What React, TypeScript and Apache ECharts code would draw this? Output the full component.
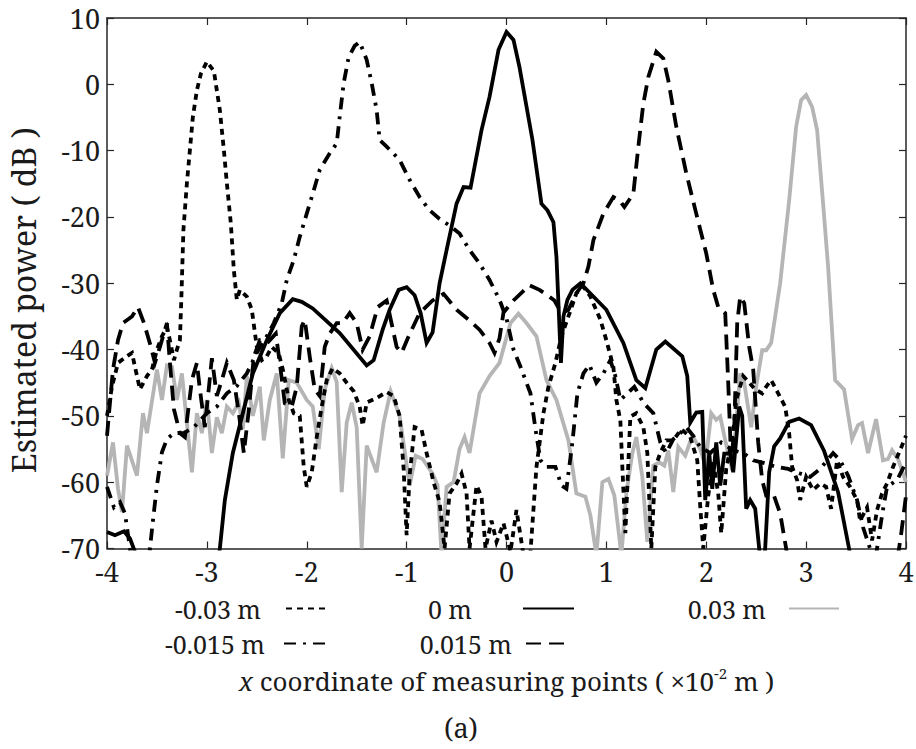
import React, { useEffect, useRef } from "react";
import * as echarts from "echarts";

// ---------- axis ranges / ticks ----------
const X_MIN = -4;
const X_MAX = 4;
const X_STEP = 1;
const Y_MIN = -70;
const Y_MAX = 10;
const Y_STEP = 10;

// ---------- series names ----------
const NAMES = ["-0.03 m", "-0.015 m", "0 m", "0.015 m", "0.03 m"];

// ---------- data: [x (×10^-2 m), power (dB)] ----------
const dataMinus003: number[][] = [
  [-4, -50], [-3.95, -45.6], [-3.89, -42], [-3.8, -41], [-3.75, -40.5], [-3.72, -42.6], [-3.67, -46],
  [-3.6, -44], [-3.55, -43], [-3.5, -40], [-3.45, -38], [-3.4, -36.6], [-3.37, -38.6], [-3.33, -41.6],
  [-3.3, -40], [-3.27, -38.6], [-3.255, -32], [-3.235, -22], [-3.2, -14.9], [-3.17, -9.9], [-3.14, -4.9],
  [-3.1, -0.9], [-3.06, 1.6], [-3.0, 3.4], [-2.93, 2], [-2.87, -3.9], [-2.83, -9.9], [-2.8, -14.9],
  [-2.76, -21], [-2.73, -28], [-2.7, -32.5], [-2.67, -31], [-2.6, -32], [-2.55, -34], [-2.5, -39.6],
  [-2.45, -41.6], [-2.4, -41], [-2.35, -39.6], [-2.28, -40.6], [-2.23, -43.6], [-2.18, -47.6],
  [-2.13, -49.6], [-2.07, -50], [-2.03, -57.7], [-2.0, -60.7], [-1.95, -58.5], [-1.9, -53.2],
  [-1.85, -48.6], [-1.8, -44.6], [-1.74, -42.8], [-1.67, -43.6], [-1.6, -45], [-1.53, -46.3],
  [-1.47, -48.6], [-1.44, -51.5], [-1.4, -48], [-1.3, -47.3], [-1.2, -46.4], [-1.13, -47], [-1.07, -50],
  [-1.03, -58], [-1.0, -68], [-0.97, -59], [-0.92, -51.7], [-0.85, -52.1], [-0.8, -55.6], [-0.73, -60],
  [-0.67, -63], [-0.62, -70], [-0.57, -61.7], [-0.5, -60.2], [-0.45, -58.7], [-0.4, -61.7], [-0.37, -70],
  [-0.3, -60.5], [-0.25, -62.2], [-0.21, -70], [-0.15, -65.8], [-0.1, -69], [-0.03, -66.2], [0.04, -70.5],
  [0.1, -64.2], [0.17, -71], [0.24, -70.5], [0.3, -57.7], [0.37, -49.6], [0.42, -45.6], [0.49, -42],
  [0.55, -38], [0.62, -35], [0.7, -31.5], [0.77, -30.5], [0.84, -32], [0.94, -35.5], [1.0, -38.6],
  [1.07, -42.6], [1.1, -47.6], [1.14, -50.7], [1.16, -57.7], [1.19, -67.7], [1.24, -50.1], [1.3, -49.6],
  [1.37, -51.7], [1.41, -55.6], [1.45, -70], [1.49, -57.7], [1.54, -55.6], [1.6, -53.7], [1.67, -53.7],
  [1.75, -52], [1.84, -53.2], [1.91, -56.7], [1.94, -63.7], [1.97, -70], [2.02, -62], [2.07, -57],
  [2.12, -61.7], [2.15, -67.7], [2.2, -58], [2.27, -52.6], [2.3, -47.6], [2.37, -44], [2.43, -45],
  [2.49, -46], [2.56, -46.6], [2.6, -45.6], [2.65, -44.6], [2.72, -46.6], [2.79, -48.6], [2.83, -52.6],
  [2.86, -57.7], [2.91, -59.7], [2.94, -62.7], [3.0, -59.2], [3.07, -61.2], [3.14, -60.2], [3.2, -60.7],
  [3.25, -64], [3.31, -56.7], [3.37, -59.2], [3.44, -60.7], [3.51, -62.7], [3.54, -65.8], [3.61, -63.8],
  [3.66, -68.8], [3.71, -64.2], [3.76, -61.7], [3.81, -60.2], [3.87, -57.7], [3.94, -55.2], [4.0, -53],
];

const dataMinus0015: number[][] = [
  [-4, -60.7], [-3.93, -63.8], [-3.87, -63], [-3.82, -64.7], [-3.77, -70], [-3.7, -76], [-3.62, -76],
  [-3.57, -70], [-3.54, -65.8], [-3.5, -60.5], [-3.45, -55.5], [-3.4, -53.5], [-3.33, -52.6],
  [-3.23, -52.6], [-3.13, -51.7], [-3.0, -49.6], [-2.9, -48.6], [-2.8, -46.6], [-2.7, -45.5],
  [-2.6, -43.6], [-2.5, -40.5], [-2.4, -38], [-2.33, -36], [-2.25, -33], [-2.2, -29.5], [-2.13, -26.5],
  [-2.07, -23], [-2.0, -19.5], [-1.93, -16], [-1.87, -12.9], [-1.77, -10.4], [-1.7, -8.9], [-1.67, -4.9],
  [-1.63, 0.2], [-1.58, 4.1], [-1.52, 5.8], [-1.47, 6.4], [-1.4, 3.7], [-1.35, 0.2], [-1.3, -3.9],
  [-1.27, -8.4], [-1.2, -9.4], [-1.07, -11.4], [-0.97, -14.4], [-0.87, -17], [-0.77, -19], [-0.67, -20.3],
  [-0.57, -21.3], [-0.47, -22.5], [-0.37, -25], [-0.27, -27], [-0.17, -29.5], [-0.07, -32.5], [0, -35.3],
  [0.07, -40], [0.14, -42.6], [0.24, -46.6], [0.29, -52], [0.34, -56.7], [0.4, -57.7], [0.49, -57.7],
  [0.55, -60.5], [0.6, -61], [0.66, -54], [0.71, -46.6], [0.77, -43.6], [0.83, -42.3], [0.9, -45],
  [0.97, -43.6], [1.04, -41.6], [1.09, -44], [1.14, -47.6], [1.21, -46.6], [1.28, -45.6], [1.37, -48],
  [1.47, -49.6], [1.54, -54], [1.6, -55.6], [1.67, -53.5], [1.74, -52.6], [1.8, -51.7], [1.87, -53],
  [1.94, -54.7], [2.04, -55.6], [2.15, -54], [2.27, -55.2], [2.37, -55.6], [2.47, -56.7], [2.6, -57.2],
  [2.7, -57.7], [2.82, -58], [2.94, -58.7], [3.04, -59.2], [3.14, -58], [3.27, -55.6], [3.34, -56.7],
  [3.42, -59], [3.51, -62.7], [3.57, -66.8], [3.64, -70], [3.7, -71], [3.76, -65], [3.81, -60.7],
  [3.91, -59.7], [4.0, -57],
];

const dataZero: number[][] = [
  [-4, -67.5], [-3.92, -68], [-3.83, -67.4], [-3.77, -68.5], [-3.72, -70.5], [-3.65, -74], [-3.5, -80],
  [-3.0, -82], [-2.92, -75], [-2.87, -70], [-2.82, -62.7], [-2.74, -55.6], [-2.64, -49.6], [-2.54, -43.6],
  [-2.4, -38.6], [-2.27, -34.5], [-2.14, -32.4], [-2.05, -32.8], [-1.94, -33.8], [-1.67, -37.5],
  [-1.4, -42.4], [-1.33, -41.6], [-1.24, -37], [-1.17, -34], [-1.08, -31], [-1.0, -30.6], [-0.92, -31.8],
  [-0.86, -34.5], [-0.8, -39], [-0.74, -37.4], [-0.67, -30], [-0.6, -25], [-0.5, -18], [-0.43, -15.5],
  [-0.36, -15.6], [-0.25, -6.9], [-0.17, -1.9], [-0.08, 5.2], [0, 7.9], [0.07, 6.7], [0.13, 2.6],
  [0.26, -8.4], [0.35, -18], [0.41, -19], [0.47, -20.8], [0.5, -26], [0.52, -33], [0.545, -42],
  [0.57, -35], [0.61, -32.5], [0.66, -31], [0.74, -30], [0.87, -32], [1.0, -34], [1.17, -39], [1.3, -44.6],
  [1.39, -45.8], [1.5, -40], [1.59, -38.8], [1.76, -41], [1.81, -44], [1.84, -51], [1.9, -49.5],
  [1.96, -49.4], [1.99, -62.7], [2.03, -55.6], [2.06, -61], [2.1, -54], [2.14, -60.5], [2.18, -55.7],
  [2.24, -55.7], [2.27, -58.5], [2.33, -48.6], [2.36, -50], [2.4, -64], [2.44, -62.7], [2.49, -64],
  [2.53, -70], [2.56, -74], [2.59, -70], [2.63, -58.5], [2.68, -54.6], [2.74, -53.4], [2.83, -50.9],
  [2.93, -50.4], [3.05, -51.4], [3.18, -55.3], [3.32, -61.5], [3.43, -70], [3.5, -76], [3.6, -82], [4, -90],
];

const data0015: number[][] = [
  [-4, -53], [-3.94, -43], [-3.89, -38.6], [-3.84, -36], [-3.75, -35], [-3.69, -33.6], [-3.63, -36],
  [-3.56, -39.6], [-3.52, -42], [-3.47, -39.6], [-3.4, -36], [-3.37, -42], [-3.33, -49], [-3.27, -52.6],
  [-3.22, -53.2], [-3.15, -44.6], [-3.1, -42], [-3.07, -46], [-3.02, -51.7], [-2.95, -41.3], [-2.9, -47],
  [-2.85, -44.6], [-2.8, -42], [-2.73, -44.6], [-2.68, -49.6], [-2.63, -55.6], [-2.58, -49.1],
  [-2.53, -41.1], [-2.47, -38.6], [-2.4, -39.1], [-2.31, -37.6], [-2.27, -42], [-2.22, -48.1],
  [-2.15, -48.6], [-2.1, -45.6], [-2.05, -36.5], [-2.02, -35.5], [-1.97, -41.1], [-1.92, -46],
  [-1.87, -47], [-1.82, -39.6], [-1.77, -37.6], [-1.7, -36], [-1.64, -36], [-1.57, -34.5], [-1.5, -36],
  [-1.44, -40], [-1.37, -38], [-1.29, -33.6], [-1.2, -32.6], [-1.1, -39.6], [-1.05, -40.5], [-0.98, -38],
  [-0.87, -34.5], [-0.74, -32.6], [-0.63, -31.6], [-0.5, -34], [-0.38, -35.5], [-0.27, -37], [-0.17, -39],
  [-0.12, -40.5], [-0.07, -38.3], [-0.03, -34.4], [0.07, -32.6], [0.23, -30.3], [0.33, -31], [0.41, -31.8],
  [0.48, -32.6], [0.55, -34.5], [0.62, -34], [0.7, -31.5], [0.77, -30], [0.82, -27.5], [0.87, -23.5],
  [0.97, -19.5], [1.07, -17], [1.13, -17.5], [1.18, -18.5], [1.27, -16.5], [1.32, -9.4], [1.37, -2.9],
  [1.42, 1.1], [1.5, 4.9], [1.57, 3.9], [1.62, 0.6], [1.7, -6.4], [1.8, -13.4], [1.9, -19.5], [2.0, -25.5],
  [2.07, -31], [2.12, -33.6], [2.19, -34.5], [2.22, -45], [2.25, -57], [2.28, -52], [2.31, -36],
  [2.34, -32], [2.38, -33], [2.43, -39.6], [2.47, -43], [2.52, -54], [2.56, -59.7], [2.6, -62],
  [2.67, -61.7], [2.74, -64.7], [2.8, -70], [2.85, -76], [3.2, -82], [3.88, -75], [3.95, -68], [4, -62],
];

const data003: number[][] = [
  [-4, -59], [-3.94, -54], [-3.89, -61], [-3.85, -64.5], [-3.8, -54.5], [-3.7, -59], [-3.64, -49.6],
  [-3.6, -52.6], [-3.5, -43], [-3.45, -47.6], [-3.4, -42.4], [-3.35, -42.6], [-3.3, -47.6], [-3.25, -43.6],
  [-3.15, -58.5], [-3.1, -49.6], [-3.05, -52.6], [-3.0, -47.6], [-2.95, -55.6], [-2.9, -50.2],
  [-2.85, -52.6], [-2.8, -48.6], [-2.74, -49.6], [-2.68, -48], [-2.64, -52], [-2.6, -44], [-2.54, -50],
  [-2.47, -45.6], [-2.43, -53.7], [-2.37, -47.6], [-2.3, -43.6], [-2.24, -56.4], [-2.18, -44.6],
  [-2.1, -45], [-2.0, -47.6], [-1.94, -48.6], [-1.88, -55], [-1.82, -46], [-1.75, -42.8], [-1.7, -44.9],
  [-1.65, -61.5], [-1.6, -51], [-1.55, -48], [-1.5, -51.7], [-1.45, -70], [-1.4, -54.5], [-1.3, -58.5],
  [-1.23, -51], [-1.16, -46.3], [-1.07, -50], [-0.97, -60.5], [-0.91, -56], [-0.84, -56.5], [-0.74, -58.7],
  [-0.69, -60.5], [-0.65, -71], [-0.6, -60.7], [-0.53, -60], [-0.47, -55], [-0.42, -53.2], [-0.37, -55.6],
  [-0.27, -46.6], [-0.17, -44], [-0.07, -42], [0.04, -36], [0.12, -34.6], [0.2, -36], [0.3, -38],
  [0.4, -44.6], [0.5, -47.6], [0.62, -53.7], [0.7, -61.7], [0.79, -62.2], [0.84, -65], [0.9, -71],
  [0.96, -60], [1.02, -59.5], [1.08, -62], [1.15, -71], [1.2, -61.7], [1.26, -55.6], [1.3, -53.2],
  [1.36, -59.2], [1.41, -69], [1.47, -57.5], [1.53, -57], [1.58, -57.5], [1.62, -55.2], [1.67, -61.5],
  [1.72, -54.7], [1.79, -56], [1.86, -53], [1.94, -55], [1.99, -57.5], [2.05, -49.6], [2.1, -50.6],
  [2.14, -50.1], [2.19, -53.7], [2.26, -58.2], [2.34, -43.6], [2.38, -45], [2.45, -51.7], [2.5, -45.6],
  [2.56, -40.1], [2.6, -40.1], [2.65, -39], [2.74, -30], [2.83, -17.5], [2.9, -6.4], [2.95, -2.4],
  [3.0, -1.6], [3.06, -3.4], [3.11, -6.9], [3.17, -18], [3.22, -27.5], [3.29, -44.6], [3.38, -46],
  [3.46, -53.5], [3.52, -51.4], [3.56, -51.1], [3.62, -55.6], [3.7, -50.5], [3.77, -56.7], [3.82, -56.5],
  [3.86, -55.2], [3.92, -56.5], [4.0, -60],
];

const FONT = "Noto Serif";
const TEXT = "#1a1a1a";
const LINE_W = 3.8;

export default function App() {
  const ref = useRef<HTMLDivElement>(null);

  useEffect(() => {
    if (!ref.current) return;
    const chart = echarts.init(ref.current, undefined, { renderer: "svg" });

    const mkSeries = (name: string, data: number[][], color: string, type: any, z: number) => ({
      name,
      type: "line",
      data,
      xAxisIndex: 0,
      yAxisIndex: 0,
      symbol: "none",
      showSymbol: false,
      clip: true,
      z,
      lineStyle: { color, width: LINE_W, type, cap: "butt", join: "miter" },
      itemStyle: { color },
      emphasis: { disabled: true },
    });

    const LEG_FS = 25;
    const legendBase = {
      orient: "horizontal",
      align: "right",
      padding: 0,
      itemHeight: 14,
      selectedMode: false,
      itemStyle: { opacity: 0, borderWidth: 0 },
      formatter: (name: string) => `{t|${name}}`,
    };
    const legendText = (gap: number) => ({
      fontFamily: FONT,
      fontSize: LEG_FS,
      lineHeight: LEG_FS,
      color: TEXT,
      padding: [0, gap, 0, 0],
      rich: { t: { fontFamily: FONT, fontSize: LEG_FS, lineHeight: LEG_FS, color: TEXT } },
    });

    const axisLine = { show: true, onZero: false, lineStyle: { color: "#262626", width: 1.5 } };
    const axisTick = { show: true, inside: true, length: 7, lineStyle: { color: "#262626", width: 1.2 } };
    const tickLabel = (margin: number) => ({
      fontFamily: FONT,
      fontSize: 27,
      color: TEXT,
      margin,
      formatter: (v: number) => `{t|${v}}`,
      rich: { t: { fontFamily: FONT, fontSize: 27, lineHeight: 28, color: TEXT } },
    });

    const option: any = {
      animation: false,
      backgroundColor: "#ffffff",
      textStyle: { fontFamily: FONT },
      grid: {
        left: 107,
        top: 18,
        right: 10,
        bottom: 200.5,
        containLabel: false,
        outerBoundsMode: "none",
      },
      xAxis: [
        {
          type: "value",
          min: X_MIN,
          max: X_MAX,
          interval: X_STEP,
          position: "bottom",
          name: "{it|x}{n| coordinate of measuring points ( ×10}{sup|-2}{n| m )}",
          nameLocation: "middle",
          nameGap: 117,
          nameTextStyle: {
            fontFamily: FONT,
            fontSize: 26,
            color: TEXT,
            rich: {
              it: { fontFamily: FONT, fontSize: 26, lineHeight: 28, fontStyle: "italic", color: TEXT, verticalAlign: "bottom" },
              n: { fontFamily: FONT, fontSize: 26, lineHeight: 28, color: TEXT, verticalAlign: "bottom" },
              sup: { fontFamily: FONT, fontSize: 15, lineHeight: 15, color: TEXT, verticalAlign: "top", padding: [0, 0, 23, 0] },
            },
          },
          axisLine,
          axisTick,
          axisLabel: tickLabel(9),
          splitLine: { show: false },
        },
        {
          type: "value",
          min: X_MIN,
          max: X_MAX,
          interval: X_STEP,
          position: "top",
          axisLine,
          axisTick,
          axisLabel: { show: false },
          splitLine: { show: false },
        },
      ],
      yAxis: [
        {
          type: "value",
          min: Y_MIN,
          max: Y_MAX,
          interval: Y_STEP,
          position: "left",
          name: "Estimated power ( dB )",
          nameLocation: "middle",
          nameGap: 68,
          nameTextStyle: { fontFamily: FONT, fontSize: 32, color: TEXT, padding: [0, 34, 0, 0] },
          axisLine,
          axisTick,
          axisLabel: tickLabel(7),
          splitLine: { show: false },
        },
        {
          type: "value",
          min: Y_MIN,
          max: Y_MAX,
          interval: Y_STEP,
          position: "right",
          axisLine,
          axisTick,
          axisLabel: { show: false },
          splitLine: { show: false },
        },
      ],
      legend: [
        { ...legendBase, data: [NAMES[0]], right: 585, top: 596, itemWidth: 44, textStyle: legendText(20) },
        { ...legendBase, data: [NAMES[2]], right: 341, top: 596, itemWidth: 51, textStyle: legendText(46) },
        { ...legendBase, data: [NAMES[4]], right: 76, top: 596, itemWidth: 50, textStyle: legendText(18) },
        { ...legendBase, data: [NAMES[1]], right: 588, top: 631, itemWidth: 43, textStyle: legendText(14) },
        { ...legendBase, data: [NAMES[3]], right: 348, top: 631, itemWidth: 41, textStyle: legendText(9) },
      ],
      graphic: [
        {
          type: "text",
          x: 461,
          y: 727,
          style: {
            text: "(a)",
            fontFamily: FONT,
            fontSize: 27,
            fill: TEXT,
            textAlign: "center",
            textVerticalAlign: "middle",
          },
        },
      ],
      series: [
        mkSeries(NAMES[4], data003, "#b5b5b5", "solid", 1),
        mkSeries(NAMES[0], dataMinus003, "#000000", [6, 5], 2),
        mkSeries(NAMES[1], dataMinus0015, "#000000", [12, 7, 3, 7], 3),
        mkSeries(NAMES[3], data0015, "#000000", [15, 8], 4),
        mkSeries(NAMES[2], dataZero, "#000000", "solid", 5),
      ],
    };

    chart.setOption(option);
    return () => chart.dispose();
  }, []);

  return (
    <div
      ref={ref}
      style={{ position: "absolute", left: 0, top: 0, width: 916, height: 749, background: "#fff" }}
    />
  );
}
